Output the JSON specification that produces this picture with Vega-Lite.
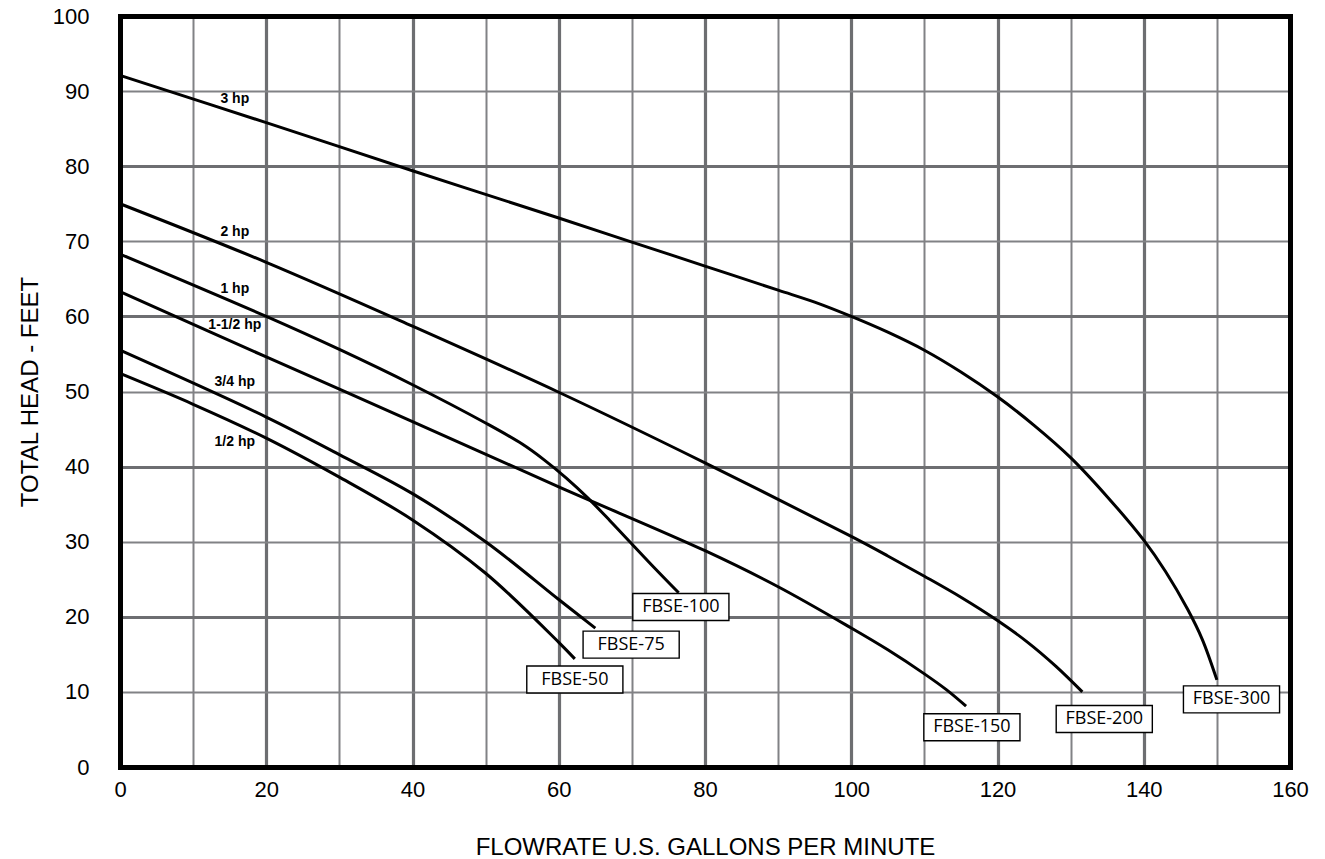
{
  "$schema": "https://vega.github.io/schema/vega-lite/v6.json",
  "width": 1170,
  "height": 751,
  "autosize": {"type": "none"},
  "padding": {"left": 120, "top": 16, "right": 35, "bottom": 92},
  "background": "white",
  "config": {"view": {"stroke": null}, "font": "Liberation Sans"},
  "datasets": {
    "curves": [
      {"pump": "FBSE-300", "flow": 0, "head": 92.1},
      {"pump": "FBSE-300", "flow": 20, "head": 85.8},
      {"pump": "FBSE-300", "flow": 40, "head": 79.4},
      {"pump": "FBSE-300", "flow": 60, "head": 73.1},
      {"pump": "FBSE-300", "flow": 70, "head": 69.9},
      {"pump": "FBSE-300", "flow": 80, "head": 66.7},
      {"pump": "FBSE-300", "flow": 90, "head": 63.5},
      {"pump": "FBSE-300", "flow": 95, "head": 61.9},
      {"pump": "FBSE-300", "flow": 100, "head": 60.0},
      {"pump": "FBSE-300", "flow": 105, "head": 57.9},
      {"pump": "FBSE-300", "flow": 110, "head": 55.5},
      {"pump": "FBSE-300", "flow": 115, "head": 52.6},
      {"pump": "FBSE-300", "flow": 120, "head": 49.3},
      {"pump": "FBSE-300", "flow": 125, "head": 45.5},
      {"pump": "FBSE-300", "flow": 130, "head": 41.2},
      {"pump": "FBSE-300", "flow": 135, "head": 36.0},
      {"pump": "FBSE-300", "flow": 140, "head": 30.2},
      {"pump": "FBSE-300", "flow": 143, "head": 26.0},
      {"pump": "FBSE-300", "flow": 146, "head": 21.0},
      {"pump": "FBSE-300", "flow": 148, "head": 17.0},
      {"pump": "FBSE-300", "flow": 150, "head": 11.6},
      {"pump": "FBSE-200", "flow": 0, "head": 75.0},
      {"pump": "FBSE-200", "flow": 20, "head": 67.2},
      {"pump": "FBSE-200", "flow": 40, "head": 58.7},
      {"pump": "FBSE-200", "flow": 60, "head": 49.9},
      {"pump": "FBSE-200", "flow": 80, "head": 40.5},
      {"pump": "FBSE-200", "flow": 100, "head": 30.7},
      {"pump": "FBSE-200", "flow": 105, "head": 28.1},
      {"pump": "FBSE-200", "flow": 110, "head": 25.4},
      {"pump": "FBSE-200", "flow": 115, "head": 22.6},
      {"pump": "FBSE-200", "flow": 120, "head": 19.5},
      {"pump": "FBSE-200", "flow": 124, "head": 16.7},
      {"pump": "FBSE-200", "flow": 128, "head": 13.4},
      {"pump": "FBSE-200", "flow": 131.6, "head": 10.0},
      {"pump": "FBSE-100", "flow": 0, "head": 68.3},
      {"pump": "FBSE-100", "flow": 20, "head": 60.0},
      {"pump": "FBSE-100", "flow": 30, "head": 55.6},
      {"pump": "FBSE-100", "flow": 40, "head": 50.9},
      {"pump": "FBSE-100", "flow": 50, "head": 45.8},
      {"pump": "FBSE-100", "flow": 55, "head": 43.0},
      {"pump": "FBSE-100", "flow": 58, "head": 40.9},
      {"pump": "FBSE-100", "flow": 61, "head": 38.5},
      {"pump": "FBSE-100", "flow": 64, "head": 35.8},
      {"pump": "FBSE-100", "flow": 67, "head": 32.8},
      {"pump": "FBSE-100", "flow": 70, "head": 29.7},
      {"pump": "FBSE-100", "flow": 73, "head": 26.6},
      {"pump": "FBSE-100", "flow": 76.4, "head": 23.2},
      {"pump": "FBSE-150", "flow": 0, "head": 63.3},
      {"pump": "FBSE-150", "flow": 20, "head": 54.6},
      {"pump": "FBSE-150", "flow": 40, "head": 46.0},
      {"pump": "FBSE-150", "flow": 60, "head": 37.3},
      {"pump": "FBSE-150", "flow": 80, "head": 28.8},
      {"pump": "FBSE-150", "flow": 90, "head": 24.0},
      {"pump": "FBSE-150", "flow": 100, "head": 18.5},
      {"pump": "FBSE-150", "flow": 105, "head": 15.6},
      {"pump": "FBSE-150", "flow": 110, "head": 12.4},
      {"pump": "FBSE-150", "flow": 113, "head": 10.3},
      {"pump": "FBSE-150", "flow": 115.7, "head": 8.1},
      {"pump": "FBSE-75", "flow": 0, "head": 55.5},
      {"pump": "FBSE-75", "flow": 20, "head": 46.6},
      {"pump": "FBSE-75", "flow": 30, "head": 41.6},
      {"pump": "FBSE-75", "flow": 40, "head": 36.4},
      {"pump": "FBSE-75", "flow": 50, "head": 30.0},
      {"pump": "FBSE-75", "flow": 60, "head": 22.3},
      {"pump": "FBSE-75", "flow": 65.0, "head": 18.5},
      {"pump": "FBSE-50", "flow": 0, "head": 52.4},
      {"pump": "FBSE-50", "flow": 10, "head": 48.3},
      {"pump": "FBSE-50", "flow": 20, "head": 43.8},
      {"pump": "FBSE-50", "flow": 30, "head": 38.6},
      {"pump": "FBSE-50", "flow": 40, "head": 32.9},
      {"pump": "FBSE-50", "flow": 50, "head": 25.8},
      {"pump": "FBSE-50", "flow": 60, "head": 16.6},
      {"pump": "FBSE-50", "flow": 62.2, "head": 14.4}
    ],
    "hp": [
      {"label": "3 hp", "flow": 15.7, "head": 89.0},
      {"label": "2 hp", "flow": 15.7, "head": 71.3},
      {"label": "1 hp", "flow": 15.7, "head": 63.7},
      {"label": "1-1/2 hp", "flow": 15.7, "head": 58.9},
      {"label": "3/4 hp", "flow": 15.7, "head": 51.2},
      {"label": "1/2 hp", "flow": 15.7, "head": 43.3}
    ],
    "models": [
      {"label": "FBSE-100", "flow": 76.7, "head": 21.3},
      {"label": "FBSE-75", "flow": 69.9, "head": 16.3},
      {"label": "FBSE-50", "flow": 62.2, "head": 11.65},
      {"label": "FBSE-150", "flow": 116.5, "head": 5.3},
      {"label": "FBSE-200", "flow": 134.6, "head": 6.4},
      {"label": "FBSE-300", "flow": 152.0, "head": 9.0}
    ]
  },
  "resolve": {"axis": {"x": "independent", "y": "independent"}},
  "layer": [
    {
      "data": {"name": "curves"},
      "mark": {"type": "line", "color": "black", "strokeWidth": 3, "interpolate": "catmull-rom"},
      "encoding": {
        "x": {
          "field": "flow", "type": "quantitative",
          "scale": {"domain": [0, 160], "nice": false, "zero": false},
          "axis": {
            "values": [0, 10, 20, 30, 40, 50, 60, 70, 80, 90, 100, 110, 120, 130, 140, 150, 160],
            "labelExpr": "datum.value % 20 === 0 ? datum.label : ''",
            "ticks": false,
            "labelFontSize": 22, "labelFont": "Liberation Sans", "labelColor": "black",
            "labelPadding": 12, "labelFlush": false, "labelOverlap": false,
            "title": "FLOWRATE U.S. GALLONS PER MINUTE",
            "titleFont": "Liberation Sans", "titleFontSize": 24, "titleFontWeight": "normal",
            "titleColor": "black", "titlePadding": 35,
            "domainColor": "black", "domainWidth": 5, "domainCap": "square",
            "grid": true,
            "gridColor": {"condition": {"test": "datum.value % 20 === 0", "value": "#6d6e71"}, "value": "#818285"},
            "gridWidth": {"condition": {"test": "datum.value % 20 === 0", "value": 3.2}, "value": 2},
            "gridOpacity": {"condition": {"test": "datum.value === 0 || datum.value === 160", "value": 0}, "value": 1}
          }
        },
        "y": {
          "field": "head", "type": "quantitative",
          "scale": {"domain": [0, 100], "nice": false, "zero": false},
          "axis": {
            "values": [0, 10, 20, 30, 40, 50, 60, 70, 80, 90, 100],
            "ticks": false,
            "labelFontSize": 22, "labelFont": "Liberation Sans", "labelColor": "black",
            "labelPadding": 31, "labelFlush": false, "labelOverlap": false,
            "title": "TOTAL HEAD - FEET",
            "titleFont": "Liberation Sans", "titleFontSize": 24, "titleFontWeight": "normal",
            "titleColor": "black", "titlePadding": 10,
            "domainColor": "black", "domainWidth": 5, "domainCap": "square",
            "grid": true,
            "gridColor": {"condition": {"test": "datum.value % 20 === 0", "value": "#6d6e71"}, "value": "#818285"},
            "gridWidth": {"condition": {"test": "datum.value % 20 === 0", "value": 3.2}, "value": 2},
            "gridOpacity": {"condition": {"test": "datum.value === 0 || datum.value === 100", "value": 0}, "value": 1}
          }
        },
        "detail": {"field": "pump", "type": "nominal"}
      }
    },
    {
      "data": {"name": "hp"},
      "mark": {"type": "text", "font": "Liberation Sans", "fontWeight": "bold", "fontSize": 14, "align": "center", "baseline": "middle", "color": "black"},
      "encoding": {
        "x": {
          "field": "flow", "type": "quantitative",
          "axis": {"orient": "top", "labels": false, "ticks": false, "grid": false, "title": null, "domainColor": "black", "domainWidth": 5, "domainCap": "square"}
        },
        "y": {
          "field": "head", "type": "quantitative",
          "axis": {"orient": "right", "labels": false, "ticks": false, "grid": false, "title": null, "domainColor": "black", "domainWidth": 5, "domainCap": "square"}
        },
        "text": {"field": "label", "type": "nominal"}
      }
    },
    {
      "data": {"name": "models"},
      "mark": {"type": "point", "shape": "M-1.78,-0.5H1.78V0.5H-1.78Z", "size": 2916, "filled": true, "fill": "white", "stroke": "black", "strokeWidth": 1.4, "opacity": 1, "fillOpacity": 1, "strokeOpacity": 1},
      "encoding": {
        "x": {"field": "flow", "type": "quantitative", "axis": null},
        "y": {"field": "head", "type": "quantitative", "axis": null}
      }
    },
    {
      "data": {"name": "models"},
      "mark": {"type": "text", "font": "Open Sans", "fontSize": 18, "align": "center", "baseline": "middle", "color": "black"},
      "encoding": {
        "x": {"field": "flow", "type": "quantitative", "axis": null},
        "y": {"field": "head", "type": "quantitative", "axis": null},
        "text": {"field": "label", "type": "nominal"}
      }
    }
  ]
}
